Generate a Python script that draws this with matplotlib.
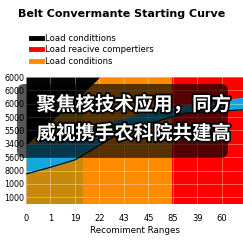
import matplotlib.pyplot as plt
import matplotlib.patheffects as pe
from matplotlib.lines import Line2D
from matplotlib.patches import FancyBboxPatch
import numpy as np

# ====== DATOS ======
x_labels = ['0', '1', '19', '22', '43', '45', '85', '39', '60']
y_labels = ['1000', '1000', '8000', '5600', '3400', '5500', '5000', '6000', '6000', '6000']

# zonas de fondo (inicio, fin, color)
zone_edges = [0, 2.33, 5.96, 8.86]
zone_colors = ['#c8880c', '#ff8c00', '#ff0000']

# zona negra (arriba a la izquierda)
black_x = [0, 0.8, 1.7, 2.5, 3.02]
black_y = [3.9, 5.3, 6.8, 8.1, 9.0]

# banda azul
band_x = [0, 1.0, 2.0, 3.55, 5.0, 6.5, 8.86]
band_low = [1.74, 2.25, 2.8, 4.5, 5.5, 6.3, 6.55]
band_high = [3.9, 4.4, 4.9, 5.7, 6.4, 6.9, 7.5]

legend_labels = ['Load condittions', 'Load reacive compertiers', 'Load conditions']
legend_colors = ['#000000', '#ff0000', '#ff8c00']

overlay_text = '聚焦核技术应用，同方\n威视携手农科院共建高'

# ====== GRAFICA ======
fig = plt.figure(figsize=(2.43, 2.43), dpi=100)
ax = fig.add_axes([26/243, 39/243, 1 - 26/243, 127/243])

for i in range(len(zone_colors)):
    ax.axvspan(zone_edges[i], zone_edges[i + 1], color=zone_colors[i], lw=0, zorder=0)

ax.fill_between(black_x, black_y, 9.0, color='#050505', lw=0, zorder=1)
ax.fill_between(band_x, band_low, band_high, color='#14a6dc', lw=0, zorder=2)
ax.plot(band_x, band_low, color='black', lw=0.8, zorder=3)

ax.set_xlim(0, 8.86)
ax.set_ylim(-0.5, 9)
ax.set_xticks(range(len(x_labels)))
ax.set_xticklabels(x_labels, fontsize=6)
ax.set_yticks(range(len(y_labels)))
ax.set_yticklabels(y_labels, fontsize=5.8)
ax.tick_params(length=0, pad=7)
ax.tick_params(axis='y', pad=1)
ax.grid(True, color='white', alpha=0.4, lw=0.6)
ax.set_axisbelow(False)
for sp in ax.spines.values():
    sp.set_visible(False)
ax.set_xlabel('Recomiment Ranges', fontsize=6.3, labelpad=2)

fig.suptitle('Belt Convermante Starting Curve', fontsize=8, fontweight='bold', y=0.965)

handles = [Line2D([], [], color=c, lw=3.5) for c in legend_colors]
fig.legend(handles, legend_labels, loc='upper left', bbox_to_anchor=(0.115, 0.875),
           frameon=False, fontsize=6.1, handlelength=1.3, handletextpad=0.35,
           labelspacing=0.3, borderaxespad=0)

# ====== CAJA SUPERPUESTA ======
box = FancyBboxPatch((17/243, 1 - 158/243), (228 - 17)/243, (158 - 84)/243,
                     boxstyle='round,pad=0,rounding_size=0.03',
                     transform=fig.transFigure, facecolor='black', alpha=0.66,
                     edgecolor='none', zorder=10)
fig.patches.append(box)
fig.text(134/243, 1 - 119/243, overlay_text, ha='center', va='center',
         fontsize=14, fontweight='bold', color='white', linespacing=1.6,
         family=['Noto Sans CJK SC', 'DejaVu Sans'], zorder=11,
         path_effects=[pe.withStroke(linewidth=2.5, foreground='black')])

fig.savefig('out.png', dpi=100)
